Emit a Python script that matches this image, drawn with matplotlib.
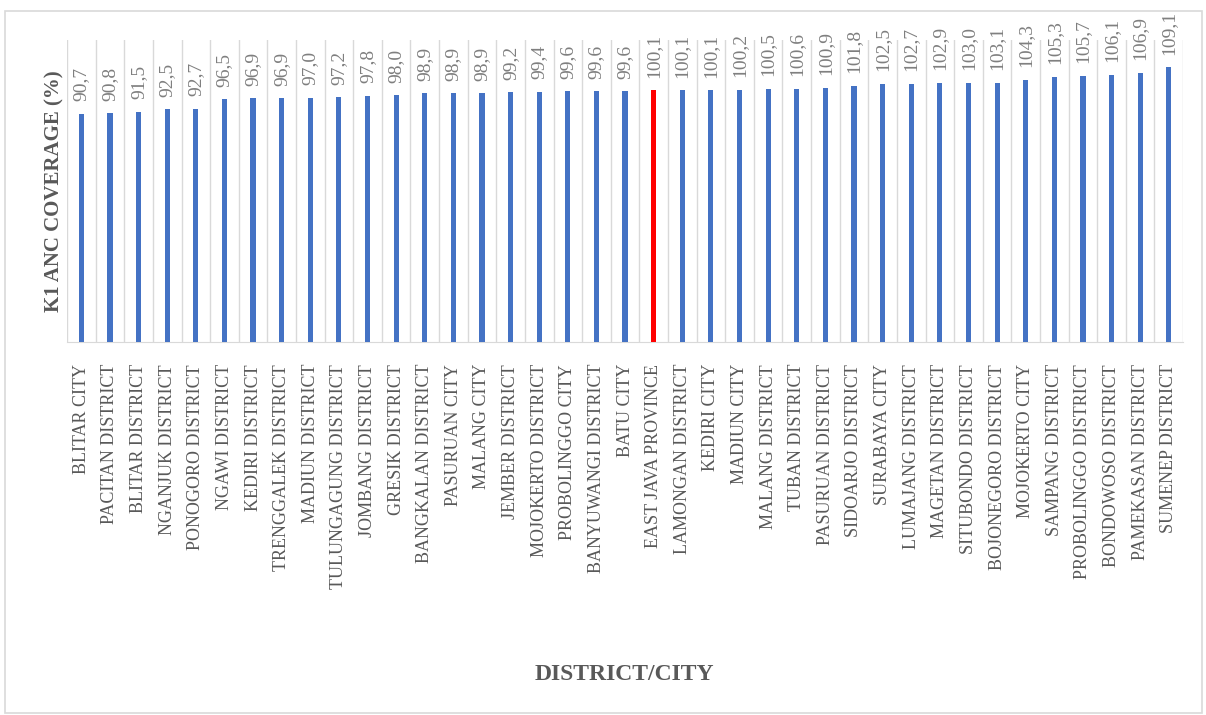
import numpy as np
import matplotlib.pyplot as plt
from matplotlib.patches import Rectangle

plt.rcParams['font.family'] = ['Liberation Serif', 'DejaVu Serif']

districts = ["BLITAR CITY", "PACITAN DISTRICT", "BLITAR DISTRICT", "NGANJUK DISTRICT",
             "PONOGORO DISTRICT", "NGAWI DISTRICT", "KEDIRI DISTRICT", "TRENGGALEK DISTRICT",
             "MADIUN DISTRICT", "TULUNGAGUNG DISTRICT", "JOMBANG DISTRICT", "GRESIK DISTRICT",
             "BANGKALAN DISTRICT", "PASURUAN CITY", "MALANG CITY", "JEMBER DISTRICT",
             "MOJOKERTO DISTRICT", "PROBOLINGGO CITY", "BANYUWANGI DISTRICT", "BATU CITY",
             "EAST JAVA PROVINCE", "LAMONGAN DISTRICT", "KEDIRI CITY", "MADIUN CITY",
             "MALANG DISTRICT", "TUBAN DISTRICT", "PASURUAN DISTRICT", "SIDOARJO DISTRICT",
             "SURABAYA CITY", "LUMAJANG DISTRICT", "MAGETAN DISTRICT", "SITUBONDO DISTRICT",
             "BOJONEGORO DISTRICT", "MOJOKERTO CITY", "SAMPANG DISTRICT", "PROBOLINGGO DISTRICT",
             "BONDOWOSO DISTRICT", "PAMEKASAN DISTRICT", "SUMENEP DISTRICT"]
coverage = [90.7, 90.8, 91.5, 92.5, 92.7, 96.5, 96.9, 96.9, 97.0, 97.2, 97.8, 98.0, 98.9,
            98.9, 98.9, 99.2, 99.4, 99.6, 99.6, 99.6, 100.1, 100.1, 100.1, 100.2, 100.5,
            100.6, 100.9, 101.8, 102.5, 102.7, 102.9, 103.0, 103.1, 104.3, 105.3, 105.7,
            106.1, 106.9, 109.1]
highlight = "EAST JAVA PROVINCE"

fig = plt.figure(figsize=(12.06, 7.15), dpi=100)
fig.patches.append(Rectangle((0.004, 0.003), 0.993, 0.982, transform=fig.transFigure,
                             fill=False, edgecolor='#d9d9d9', lw=1.2))
ax = fig.add_axes([0.0556, 0.522, 0.9254, 0.422])

x = np.arange(len(districts))
colors = ['#ff0000' if d == highlight else '#4472c4' for d in districts]
ax.bar(x, coverage, width=0.18, color=colors, zorder=3)

for xi, v in zip(x, coverage):
    ax.text(xi, v + 5, f"{v:.1f}".replace('.', ','), rotation=90, ha='center', va='bottom',
            fontsize=14, color='#7f7f7f', clip_on=False)

ax.set_xlim(-0.5, len(districts) - 0.5)
ax.set_ylim(0, 120)
ax.set_xticks(x)
ax.set_xticklabels(districts, rotation=90, fontsize=13, color='#595959')
ax.tick_params(axis='x', length=0, pad=16)
ax.set_yticks([])
ax.set_xticks(np.arange(-0.5, len(districts)), minor=True)
ax.tick_params(axis='x', which='minor', length=0)
ax.grid(axis='x', which='minor', color='#d9d9d9', lw=1)
ax.grid(axis='x', which='major', visible=False)
for s in ['top', 'right', 'left']:
    ax.spines[s].set_visible(False)
ax.spines['bottom'].set_color('#d9d9d9')

ax.set_ylabel("K1 ANC COVERAGE (%)", fontsize=15, fontweight='bold', color='#595959', labelpad=2)
fig.text(0.518, 0.056, "DISTRICT/CITY", fontsize=17, fontweight='bold', color='#595959',
         ha='center', va='center')

fig.savefig("out.png", dpi=100)
